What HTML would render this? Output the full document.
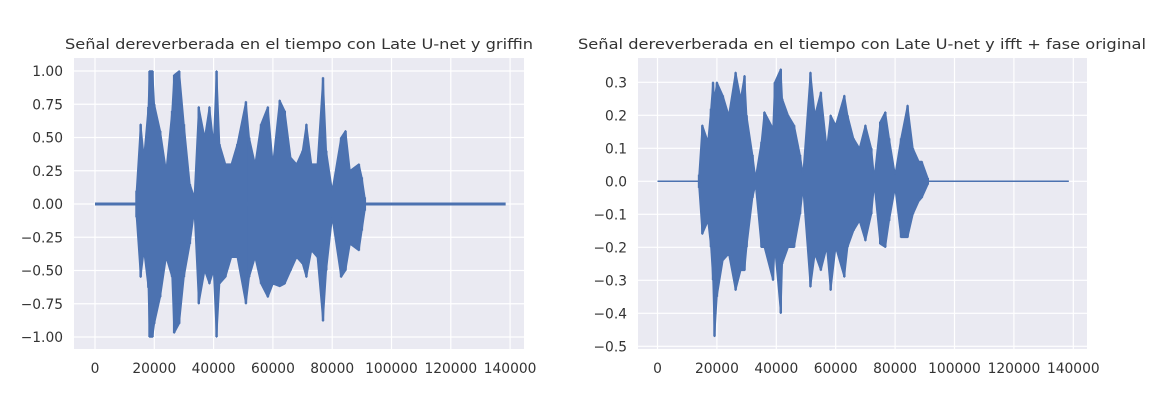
<!DOCTYPE html>
<html><head><meta charset="utf-8"><style>
body{margin:0;background:#fff;}
svg text{font-family:"DejaVu Sans","Liberation Sans",sans-serif;fill:#333;}
</style></head><body>
<svg id="chart" width="1165" height="409" viewBox="0 0 1165 409" xmlns="http://www.w3.org/2000/svg"></svg>
<script>
// ---- Data ----
const leftTitle = "Señal dereverberada en el tiempo con Late U-net y griffin";
const rightTitle = "Señal dereverberada en el tiempo con Late U-net y ifft + fase original";
const xTicks = [0,20000,40000,60000,80000,100000,120000,140000];
const leftYTicks = [1.00,0.75,0.50,0.25,0.00,-0.25,-0.50,-0.75,-1.00];
const leftYLabels = ["1.00","0.75","0.50","0.25","0.00","\u22120.25","\u22120.50","\u22120.75","\u22121.00"];
const rightYTicks = [0.3,0.2,0.1,0.0,-0.1,-0.2,-0.3,-0.4,-0.5];
const rightYLabels = ["0.3","0.2","0.1","0.0","\u22120.1","\u22120.2","\u22120.3","\u22120.4","\u22120.5"];
const signalLength = 138500;
// envelope samples (time in samples, upper, lower)
const leftT  = [14000,15400,16500,18000,18400,19400,20000,22000,24000,26000,26700,28400,30000,32000,33500,35000,37000,38600,40000,41000,42000,44000,46000,48000,50900,52000,54000,56000,58300,60000,62300,64000,66000,68000,70000,71300,73000,75000,76900,78000,80000,83000,84500,86000,89000,90000,91000];
const leftHi = [0.10,0.60,0.35,0.73,1.00,1.00,0.75,0.55,0.25,0.70,0.97,1.00,0.60,0.15,0.05,0.73,0.50,0.73,0.45,1.00,0.45,0.30,0.30,0.45,0.77,0.50,0.30,0.60,0.73,0.30,0.78,0.70,0.35,0.30,0.40,0.60,0.30,0.30,0.95,0.40,0.10,0.50,0.55,0.25,0.30,0.20,0.05];
const leftLo = [-0.10,-0.55,-0.35,-0.63,-1.00,-1.00,-0.90,-0.70,-0.40,-0.55,-0.97,-0.90,-0.55,-0.30,-0.05,-0.75,-0.50,-0.60,-0.50,-1.00,-0.60,-0.55,-0.40,-0.40,-0.75,-0.55,-0.40,-0.60,-0.70,-0.60,-0.62,-0.60,-0.50,-0.40,-0.45,-0.55,-0.35,-0.40,-0.88,-0.50,-0.10,-0.55,-0.50,-0.30,-0.35,-0.20,-0.05];
const rightT  = [14000,15100,17000,18000,18700,19200,20000,22000,24000,26300,28000,29300,30000,32000,33000,35000,36000,38900,39500,41500,42000,44000,46000,48000,49000,51500,53000,55000,57000,58300,60000,62900,64000,66000,68000,70000,72000,73000,75000,76700,78000,80000,82000,84200,86000,88000,89000,91000];
const rightHi = [0.02,0.17,0.12,0.22,0.30,0.25,0.30,0.26,0.20,0.33,0.25,0.32,0.20,0.08,0.01,0.12,0.21,0.16,0.30,0.34,0.25,0.20,0.17,0.08,0.02,0.33,0.20,0.27,0.10,0.20,0.17,0.26,0.20,0.13,0.10,0.17,0.10,0.01,0.18,0.21,0.13,0.02,0.13,0.23,0.10,0.06,0.06,0.01];
const rightLo = [-0.02,-0.16,-0.12,-0.20,-0.30,-0.47,-0.35,-0.24,-0.22,-0.33,-0.27,-0.27,-0.20,-0.05,-0.01,-0.20,-0.20,-0.30,-0.20,-0.40,-0.25,-0.20,-0.20,-0.10,-0.02,-0.32,-0.22,-0.27,-0.20,-0.33,-0.20,-0.29,-0.20,-0.15,-0.12,-0.18,-0.10,-0.01,-0.19,-0.20,-0.12,-0.02,-0.17,-0.17,-0.10,-0.06,-0.05,-0.01];

const NS="http://www.w3.org/2000/svg";
const svg=document.getElementById('chart');
function el(tag,attrs,parent){const e=document.createElementNS(NS,tag);for(const k in attrs)e.setAttribute(k,attrs[k]);(parent||svg).appendChild(e);return e;}

function drawPanel(cfg){
  const g=el('g',{});
  
  
  const xs=v=>cfg.x0px+v/20000*cfg.xPer;
  const ys=v=>cfg.yZero-v*cfg.yPer;
  const bg=el('rect',{x:cfg.ax0,y:58,width:cfg.ax1-cfg.ax0,height:291,fill:'#EAEAF2'},g);
  
  
  cfg.yTicks.forEach((v,i)=>{
    const y=ys(v);
    const l=el('line',{x1:cfg.ax0,x2:cfg.ax1,y1:y,y2:y,stroke:'#fff','stroke-width':1.2},g);
    
    
    const t=el('text',{x:cfg.ax0-11,y:y+5,'text-anchor':'end','font-size':13.8},g);
    
    
    t.textContent=cfg.yLabels[i];
  });
  xTicks.forEach(v=>{
    const x=xs(v);
    const l=el('line',{x1:x,x2:x,y1:58,y2:349,stroke:'#fff','stroke-width':1.2},g);
    
    
    const t=el('text',{x:x,y:373,'text-anchor':'middle','font-size':13.8},g);
    
    
    t.textContent=String(v);
  });
  // waveform envelope
  const n=cfg.T.length;
  let d='M'+xs(cfg.T[0])+','+ys(0);
  cfg.T.forEach((t,i)=>{d+=' L'+xs(t)+','+ys(cfg.hi[i]);});
  d+=' L'+xs(cfg.T[n-1])+','+ys(0);
  for(let i=n-1;i>=0;i--){d+=' L'+xs(cfg.T[i])+','+ys(cfg.lo[i]);}
  const p=el('path',{d:d+' Z',fill:'#4C72B0',stroke:'#4C72B0','stroke-width':1.5,'stroke-linejoin':'round'},g);
  
  
  cfg.T.forEach((t,i)=>{
    const s=el('line',{x1:xs(t),x2:xs(t),y1:ys(cfg.hi[i]),y2:ys(cfg.lo[i]),stroke:'#4C72B0','stroke-width':2.5},g);
    
    
  });
  const z=el('line',{x1:xs(0),x2:xs(signalLength),y1:ys(0),y2:ys(0),stroke:'#4C72B0','stroke-width':cfg.zw},g);
  
  
  const tt=el('text',{x:cfg.titleX,y:49,'text-anchor':'middle','font-size':14.2,textLength:cfg.titleW,lengthAdjust:'spacingAndGlyphs'},g);
  
  
  tt.textContent=cfg.title;
}
drawPanel({name:'left-chart',ax0:74,ax1:524,x0px:95,xPer:59.3,yZero:204,yPer:133,yTicks:leftYTicks,yLabels:leftYLabels,T:leftT,hi:leftHi,lo:leftLo,title:leftTitle,titleX:299,titleW:468,zw:3});
drawPanel({name:'right-chart',ax0:638,ax1:1087,x0px:657.5,xPer:59.4,yZero:181.3,yPer:330,yTicks:rightYTicks,yLabels:rightYLabels,T:rightT,hi:rightHi,lo:rightLo,title:rightTitle,titleX:862,titleW:568,zw:1.5});
</script>
</body></html>
